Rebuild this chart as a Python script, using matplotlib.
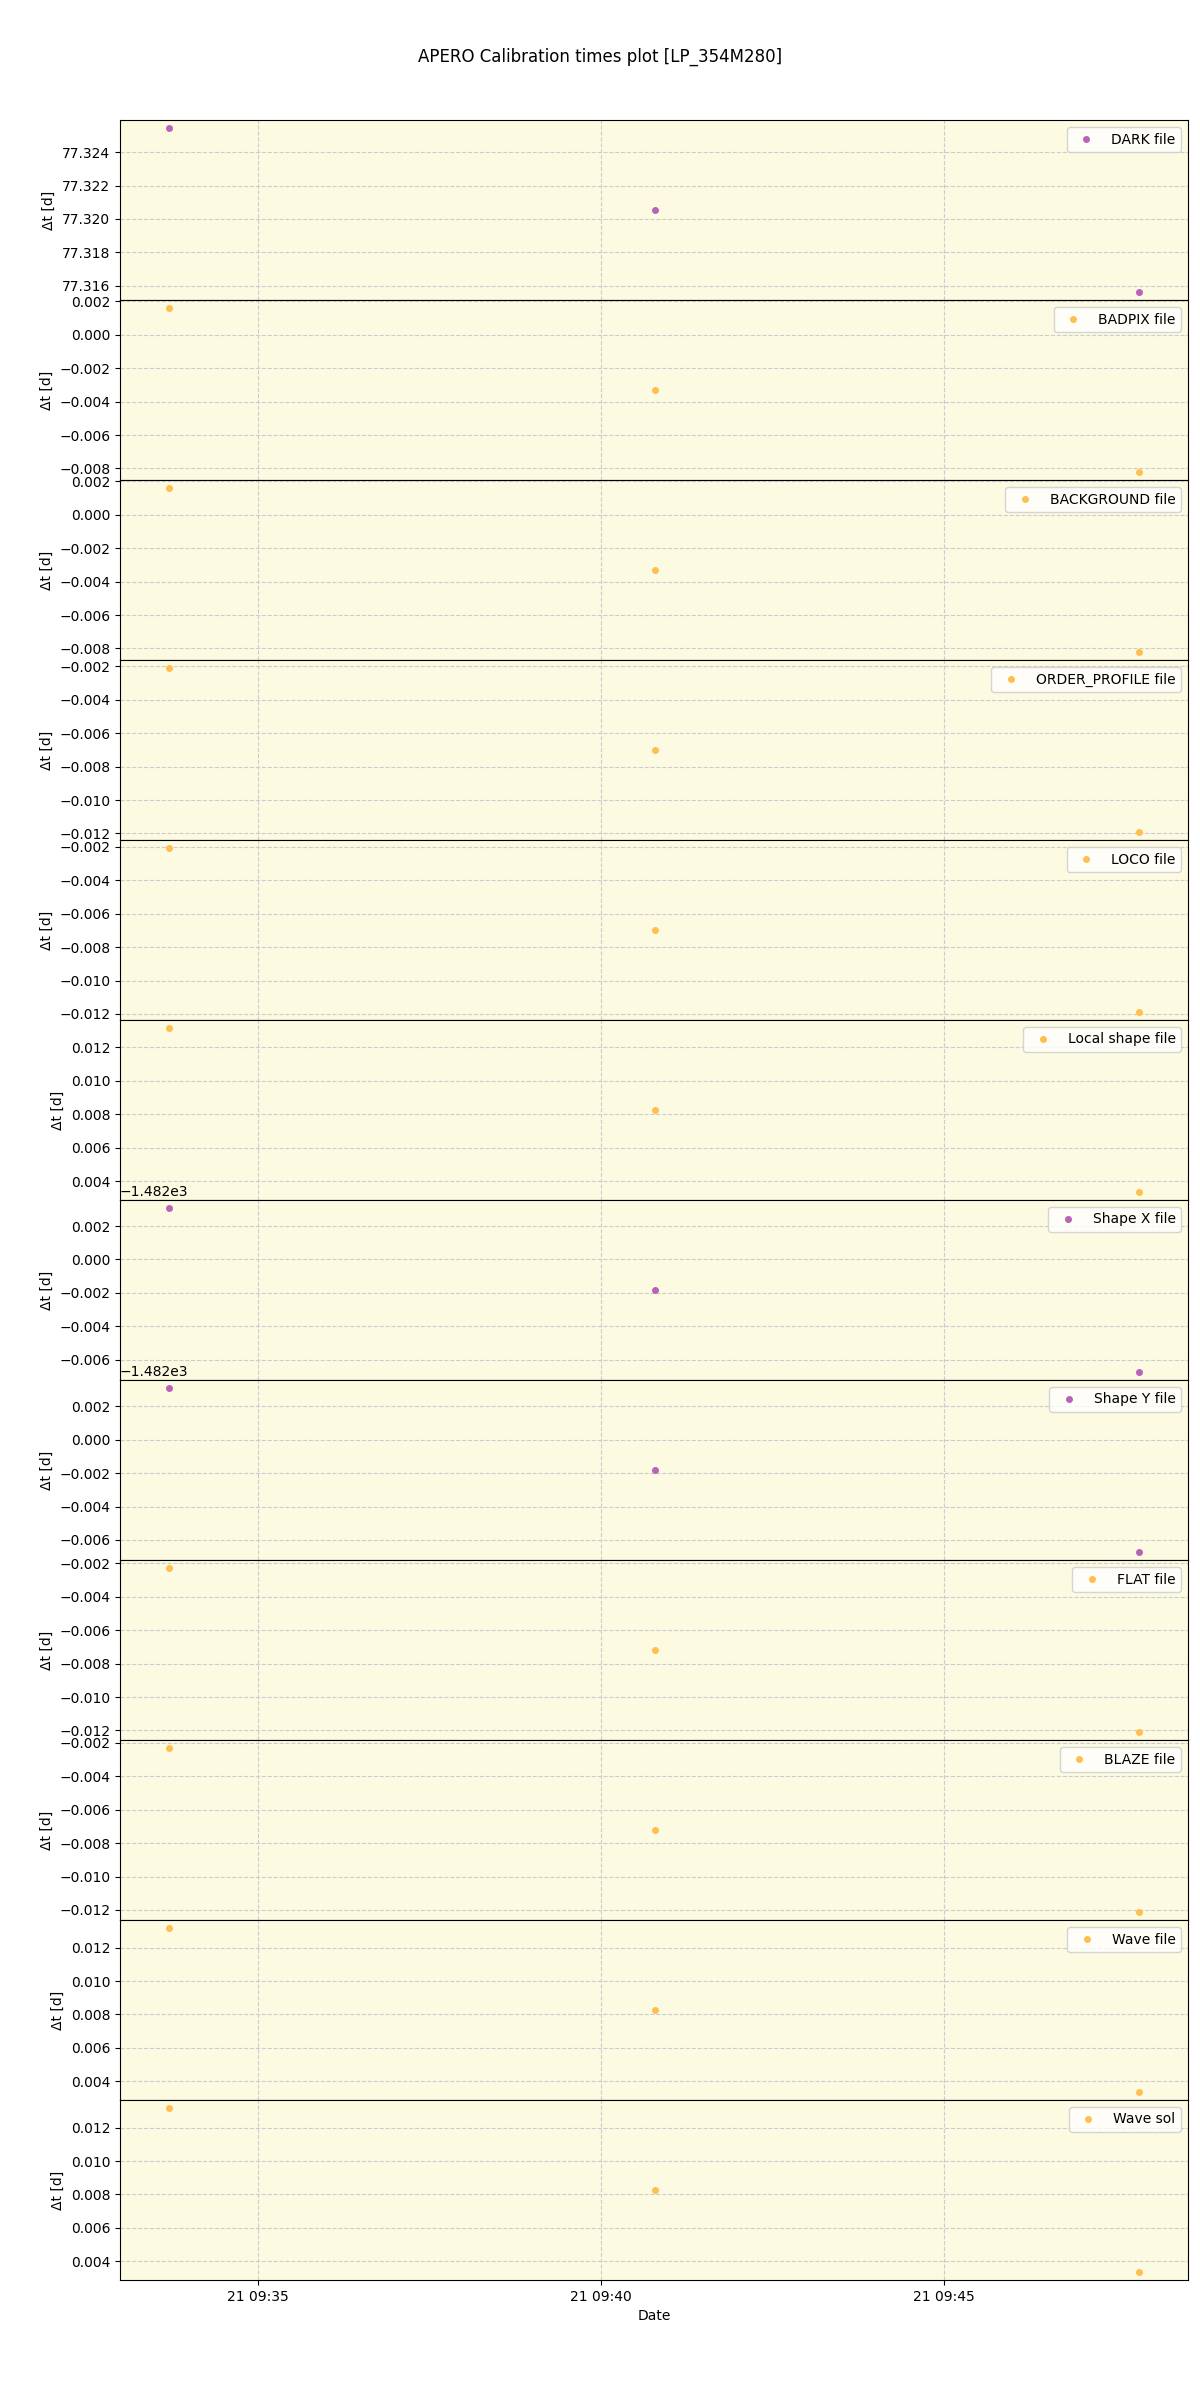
import numpy as np
import pandas as pd
import matplotlib
matplotlib.use('Agg')
import matplotlib.pyplot as plt

# observation times of the three files
times = pd.to_datetime(['2019-05-21 09:33:42', '2019-05-21 09:40:47', '2019-05-21 09:47:51'])

labels = ['DARK file', 'BADPIX file', 'BACKGROUND file', 'ORDER_PROFILE file',
          'LOCO file', 'Local shape file', 'Shape X file', 'Shape Y file',
          'FLAT file', 'BLAZE file', 'Wave file', 'Wave sol']

dark = [77.32543, 77.32055, 77.31564]
badpix = [0.00158, -0.00331, -0.00820]
background = [0.00158, -0.00331, -0.00820]
order_profile = [-0.00211, -0.00700, -0.01190]
loco = [-0.00208, -0.00697, -0.01187]
local_shape = [0.01315, 0.00826, 0.00336]
shape_x = [-1481.99693, -1482.00182, -1482.00672]
shape_y = [-1481.99692, -1482.00181, -1482.00671]
flat = [-0.00229, -0.00718, -0.01208]
blaze = [-0.00232, -0.00721, -0.01211]
wave_file = [0.01316, 0.00827, 0.00337]
wave_sol = [0.01316, 0.00827, 0.00337]

series = [dark, badpix, background, order_profile, loco, local_shape,
          shape_x, shape_y, flat, blaze, wave_file, wave_sol]
is_purple = [True, False, False, False, False, False,
             True, True, False, False, False, False]

fig, axes = plt.subplots(12, 1, figsize=(12, 24), sharex=True)
fig.subplots_adjust(left=0.1, right=0.99, top=0.95, bottom=0.05, hspace=0)

for ax, lab, vals, purp in zip(axes, labels, series, is_purple):
    col = '#B862B8' if purp else '#FFBF50'
    ax.plot(times, vals, 'o', ms=4, color=col, label=lab)
    ax.set_facecolor('#FCFAE1')
    ax.grid(True, linestyle='--', color='0.8')
    ax.set_ylabel('Δt [d]')
    ax.legend(loc='upper right')

axes[-1].set_xlabel('Date')
fig.suptitle('APERO Calibration times plot [LP_354M280]')

plt.savefig('out.png', dpi=100)
